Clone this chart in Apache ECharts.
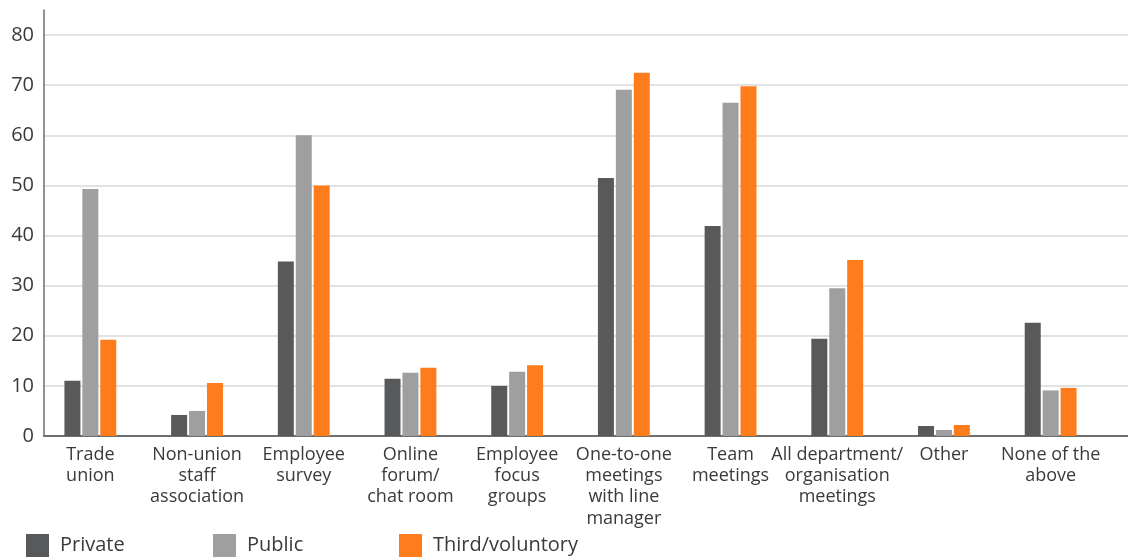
<!DOCTYPE html>
<html>
<head>
<meta charset="utf-8">
<script src="https://cdn.jsdelivr.net/npm/echarts@6/dist/echarts.min.js"></script>
<style>
html,body{margin:0;padding:0;background:#fff;}
#chart{width:1128px;height:558px;}
</style>
</head>
<body>
<div id="chart"></div>
<script>
const categories = [
  "Trade\nunion",
  "Non-union\nstaff\nassociation",
  "Employee\nsurvey",
  "Online\nforum/\nchat room",
  "Employee\nfocus\ngroups",
  "One-to-one\nmeetings\nwith line\nmanager",
  "Team\nmeetings",
  "All department/\norganisation\nmeetings",
  "Other",
  "None of the\nabove"
];
const seriesNames = ["Private", "Public", "Third/voluntory"];
const privateVals = [11.0, 4.2, 34.8, 11.4, 10.0, 51.5, 41.9, 19.4, 2.0, 22.6];
const publicVals  = [49.3, 5.0, 60.0, 12.6, 12.8, 69.1, 66.5, 29.5, 1.2, 9.1];
const thirdVals   = [19.2, 10.6, 50.0, 13.6, 14.1, 72.5, 69.8, 35.1, 2.2, 9.6];
const yTicks = [0, 10, 20, 30, 40, 50, 60, 70, 80];

const colors = ["#58595b", "#9e9fa1", "#fe7c1c"];
const FONT = "Open Sans";
const TXT = "#3a3a3a";

const chart = echarts.init(document.getElementById('chart'), null, {renderer: 'canvas'});
const gridColors = yTicks.map(() => '#d9d9d9').concat(['transparent']);

const option = {
  animation: false,
  backgroundColor: '#fff',
  grid: [
    {left: 44, right: 0, top: 10, bottom: 122},
    {left: 37, right: 24, top: 10, bottom: 122}
  ],
  xAxis: [
    {gridIndex: 0, type: 'value', min: 0, max: 1,
      axisLine: {show: true, lineStyle: {color: '#6d6e70', width: 2}},
      axisTick: {show: false}, axisLabel: {show: false}, splitLine: {show: false}},
    {gridIndex: 1, type: 'category', data: categories,
      axisLine: {show: false}, axisTick: {show: false},
      axisLabel: {interval: 0, margin: 8, fontFamily: FONT, fontSize: 18, color: TXT, lineHeight: 21.3, align: 'center'}}
  ],
  yAxis: [
    {gridIndex: 0, type: 'value', min: 0, max: 85, interval: 10,
      axisLine: {show: true, lineStyle: {color: '#6d6e70', width: 1.5}},
      axisTick: {show: false},
      axisLabel: {margin: 10, fontFamily: FONT, fontSize: 20, color: TXT,
        formatter: v => (yTicks.indexOf(v) >= 0 ? String(v) : '')},
      splitLine: {show: true, lineStyle: {color: gridColors, width: 1.5}}},
    {gridIndex: 1, type: 'value', min: 0, max: 85, show: false, splitLine: {show: false}}
  ],
  legend: seriesNames.map((n, i) => ({
    data: [n], left: [26, 213, 399][i], top: 534, padding: 0,
    itemWidth: 23, itemHeight: 23, icon: 'rect',
    textStyle: {fontFamily: FONT, fontSize: 20, color: TXT, padding: [4, 0, 0, 6]}
  })),
  series: [privateVals, publicVals, thirdVals].map((d, i) => ({
    name: seriesNames[i], type: 'bar', xAxisIndex: 1, yAxisIndex: 1,
    data: d, barWidth: 16, barGap: '12%',
    itemStyle: {color: colors[i]}
  }))
};
chart.setOption(option);
</script>
</body>
</html>
